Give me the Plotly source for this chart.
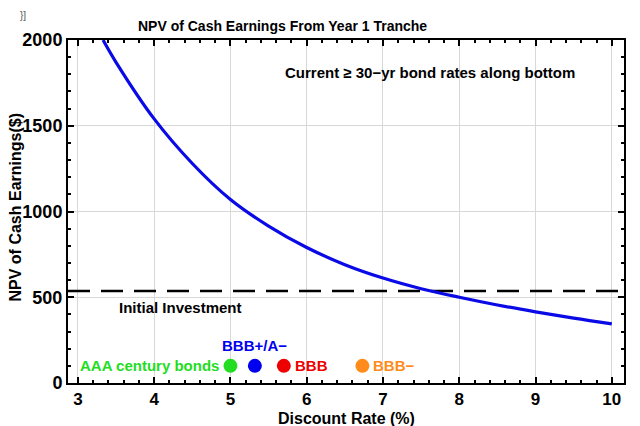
import plotly.graph_objects as go

# curve
rates = [3.33, 3.5, 4.0, 4.5, 5.0, 5.5, 6.0, 6.5, 7.0, 7.5, 8.0, 8.5, 9.0, 9.5, 10.0]
npv = [2000, 1870, 1540, 1280, 1070, 915, 790, 690, 612, 550, 500, 455, 415, 378, 345]

initial_investment = 537
invest_x = [2.87, 10.16]

bond_labels = ["AAA century bonds", "BBB+/A\u2212", "BBB", "BBB\u2212"]
bond_rates = [5.0, 5.32, 5.7, 6.73]
bond_y = [100, 100, 100, 100]
bond_colors = ["#22dd22", "#0000ee", "#ee0000", "#ff8c1a"]

FONT = "Liberation Sans, Arial, sans-serif"

fig = go.Figure()

fig.add_trace(go.Scatter(
    x=invest_x, y=[initial_investment] * 2, mode="lines",
    line=dict(color="black", width=2.5, dash="22px,11px"),
    showlegend=False, hoverinfo="skip"))

fig.add_trace(go.Scatter(
    x=rates, y=npv, mode="lines", line=dict(color="#0a0ae6", width=3.2, shape="spline"),
    showlegend=False))

fig.add_trace(go.Scatter(
    x=bond_rates, y=bond_y, mode="markers",
    marker=dict(color=bond_colors, size=14),
    showlegend=False))

# labels next to the dots
fig.add_annotation(x=bond_rates[0], y=bond_y[0], text="<b>" + bond_labels[0] + "</b>",
                   xanchor="right", xshift=-9, showarrow=False,
                   font=dict(color=bond_colors[0], size=15, family=FONT))
fig.add_annotation(x=bond_rates[1], y=bond_y[1], text="<b>" + bond_labels[1] + "</b>",
                   yshift=20, showarrow=False,
                   font=dict(color=bond_colors[1], size=15, family=FONT))
fig.add_annotation(x=bond_rates[2], y=bond_y[2], text="<b>" + bond_labels[2] + "</b>",
                   xanchor="left", xshift=9, showarrow=False,
                   font=dict(color=bond_colors[2], size=15, family=FONT))
fig.add_annotation(x=bond_rates[3], y=bond_y[3], text="<b>" + bond_labels[3] + "</b>",
                   xanchor="left", xshift=9, showarrow=False,
                   font=dict(color=bond_colors[3], size=15, family=FONT))

fig.add_annotation(x=4.34, y=443, text="<b>Initial Investment</b>", showarrow=False,
                   font=dict(color="black", size=15, family=FONT))
fig.add_annotation(x=7.61, y=1808, text="<b>Current \u2265 30\u2212yr bond rates along bottom</b>",
                   showarrow=False, font=dict(color="black", size=15, family=FONT))

# axis titles
fig.add_annotation(x=0.5, y=0, xref="paper", yref="paper", yshift=-35,
                   xanchor="center", yanchor="middle",
                   text="<b>Discount Rate (%)</b>", showarrow=False,
                   font=dict(color="black", size=16, family=FONT))
fig.add_annotation(x=0, y=0.5, xref="paper", yref="paper", xshift=-53, yshift=4,
                   xanchor="center", yanchor="middle",
                   textangle=-90, text="<b>NPV of Cash Earnings($)</b>", showarrow=False,
                   font=dict(color="black", size=16, family=FONT))

# stray notebook bracket in the corner
fig.add_annotation(x=0.0, y=1.0, xref="paper", yref="paper", xanchor="left", yanchor="top",
                   xshift=-50, yshift=32, text="}]", showarrow=False,
                   font=dict(color="#555", size=10, family=FONT))

axis_common = dict(
    showline=True, linecolor="black", linewidth=2, mirror="allticks",
    ticks="inside", ticklen=6, tickwidth=1.5, tickcolor="black",
    showgrid=True, gridcolor="#d8d8d8", gridwidth=1, zeroline=False,
    automargin=False,
)

fig.update_xaxes(
    range=[2.87, 10.16], tickvals=[3, 4, 5, 6, 7, 8, 9, 10],
    ticktext=["<b>%d</b>" % v for v in range(3, 11)],
    tickfont=dict(size=17, family=FONT, color="black"),
    minor=dict(dtick=0.2, ticks="inside", ticklen=3, tickcolor="black", showgrid=False),
    **axis_common)
fig.update_yaxes(
    range=[0, 2000], tickvals=[0, 500, 1000, 1500, 2000],
    ticktext=["<b>%d</b>" % v for v in [0, 500, 1000, 1500, 2000]],
    tickfont=dict(size=18, family=FONT, color="black"),
    minor=dict(dtick=100, ticks="inside", ticklen=3, tickcolor="black", showgrid=False),
    **axis_common)

# page body adds an 8px offset, so margins are shifted to match
fig.update_layout(
    width=640, height=426,
    margin=dict(l=60, r=24, t=32, b=51, autoexpand=False),
    paper_bgcolor="white", plot_bgcolor="white",
    title=dict(text="<b>NPV of Cash Earnings From Year 1 Tranche</b>", x=0.429, xanchor="center",
               y=0.958, yanchor="middle", font=dict(size=14, family=FONT, color="black")),
)

fig.write_html("out.html")
